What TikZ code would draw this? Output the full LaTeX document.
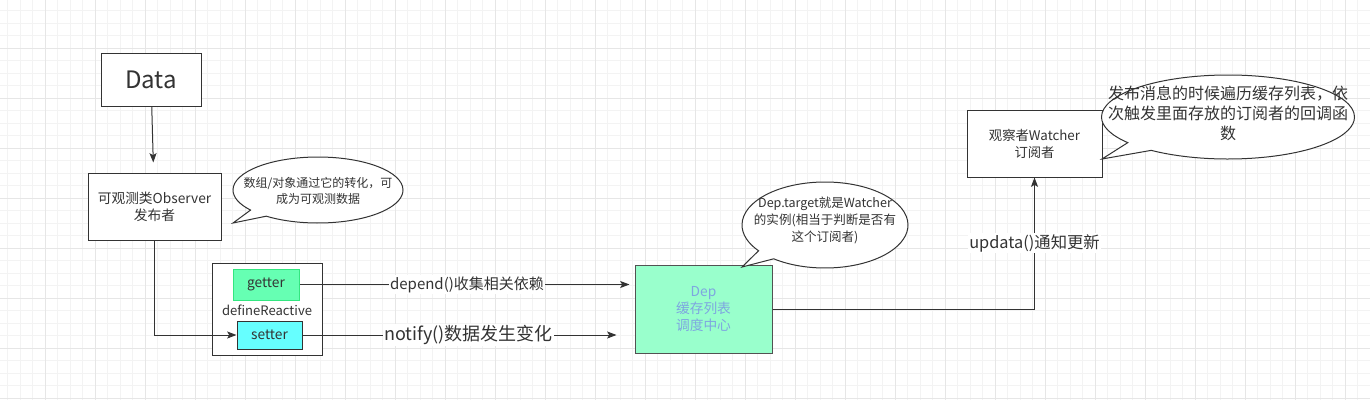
\documentclass[tikz,border=0pt]{standalone}
\usepackage{fontspec}
\setmainfont{Noto Sans CJK SC}
\usetikzlibrary{arrows.meta,shapes.callouts}

\definecolor{ink}{HTML}{333333}
\definecolor{gridminor}{HTML}{F3F3F3}
\definecolor{gridmajor}{HTML}{E6E6E6}
\definecolor{getterfill}{HTML}{66FFB3}
\definecolor{getterline}{HTML}{33E680}
\definecolor{setterfill}{HTML}{66FFFF}
\definecolor{depfill}{HTML}{99FFCC}
\definecolor{deptext}{HTML}{7EA6E0}

\tikzset{
  box/.style={draw=ink, fill=white, line width=0.75pt, text=ink, align=center, inner sep=0pt},
  link/.style={draw=ink, line width=0.75pt, -{Stealth[length=7pt,width=5.25pt,inset=1.5pt]}},
  note/.style={ellipse callout, draw=ink, fill=white, line width=0.75pt, inner sep=0pt},
  lbl/.style={fill=white, text=ink, inner sep=1pt}
}

\begin{document}
\begin{tikzpicture}[x=0.75pt, y=-0.75pt]
        \useasboundingbox (0,0) rectangle (1370,400);
        % background grid
        \fill[white] (0,0) rectangle (1370,400);
        \foreach \i in {0,...,110} \draw[gridminor, line width=0.75pt] ({-5+12.5*\i},0) -- ({-5+12.5*\i},400);
        \foreach \i in {0,...,33} \draw[gridminor, line width=0.75pt] (0,{-2+12.5*\i}) -- (1370,{-2+12.5*\i});
        \foreach \i in {0,...,27} \draw[gridmajor, line width=0.75pt] ({-5+50*\i},0) -- ({-5+50*\i},400);
        \foreach \i in {0,...,8} \draw[gridmajor, line width=0.75pt] (0,{-2+50*\i}) -- (1370,{-2+50*\i});

        % boxes
        \node[box, minimum width=75pt, minimum height=39.75pt, font=\fontsize{18pt}{22pt}\selectfont] (data) at (151,79.5) {Data};
        \node[box, minimum width=99.75pt, minimum height=50.25pt, font=\fontsize{10.3pt}{12.75pt}\selectfont] (obs) at (154.5,206.5) {可观测类Observer\\发布者};
        \node[box, minimum width=82.5pt, minimum height=69pt] (react) at (267,309) {};
        \node[box, fill=getterfill, draw=getterline, minimum width=49.5pt, minimum height=23.25pt, font=\fontsize{10.3pt}{12pt}\selectfont] (getter) at (266,284.5) {getter};
        \node[text=ink, font=\fontsize{9.8pt}{11pt}\selectfont] (reactlbl) at (267,310) {defineReactive};
        \node[box, fill=setterfill, minimum width=48.75pt, minimum height=21pt, font=\fontsize{10.3pt}{12pt}\selectfont] (setter) at (269.5,335) {setter};
        \node[box, fill=depfill, draw=ink!85, text=deptext, minimum width=102.75pt, minimum height=66pt, font=\fontsize{10.3pt}{12.75pt}\selectfont] (dep) at (703.5,309) {Dep\\缓存列表\\调度中心};
        \node[box, minimum width=101.25pt, minimum height=50.25pt, font=\fontsize{10pt}{12.75pt}\selectfont] (watch) at (1034.5,143.5) {观察者Watcher\\订阅者};

        % notes
        \node[note, minimum width=127.5pt, minimum height=49.5pt, callout absolute pointer={(233,223)}] (note1) at (318,190) {};
        \node[text=ink, align=center, font=\fontsize{9pt}{12pt}\selectfont] (note1txt) at (318,191) {数组/对象通过它的转化，可\\成为可观测数据};
        \node[note, minimum width=124.5pt, minimum height=64.5pt, callout absolute pointer={(742,267)}] (note2) at (825,225) {};
        \node[text=ink, align=center, font=\fontsize{9.4pt}{12.75pt}\selectfont] (note2txt) at (825,220) {Dep.target就是Watcher\\的实例(相当于判断是否有\\这个订阅者)};
        \node[note, minimum width=189.75pt, minimum height=63pt, callout absolute pointer={(1102,159)}] (note3) at (1228,117) {};
        \node[text=ink, align=center, font=\fontsize{12pt}{15pt}\selectfont] (note3txt) at (1228,113) {发布消息的时候遍历缓存列表，依\\次触发里面存放的订阅者的回调函\\数};

        % connectors
        \draw[link, shorten >=7.5pt] (data) -- (obs);
        \draw[link] (obs.south) |- (setter.west);
        \draw[link, shorten >=3.75pt] (getter.east) -- (getter.east -| dep.west)
            node[lbl, midway, font=\fontsize{11.25pt}{13pt}\selectfont] (dependlbl) {depend()收集相关依赖};
        \draw[link, shorten >=13.5pt] (setter.east) -- (setter.east -| dep.west)
            node[lbl, midway, font=\fontsize{13.5pt}{16pt}\selectfont] (notifylbl) {notify()数据发生变化};
        \draw[link] (dep.east) -| (watch.south)
            node[lbl, pos=0.75, font=\fontsize{12.25pt}{14pt}\selectfont] (updatalbl) {updata()通知更新};
\end{tikzpicture}
\end{document}
